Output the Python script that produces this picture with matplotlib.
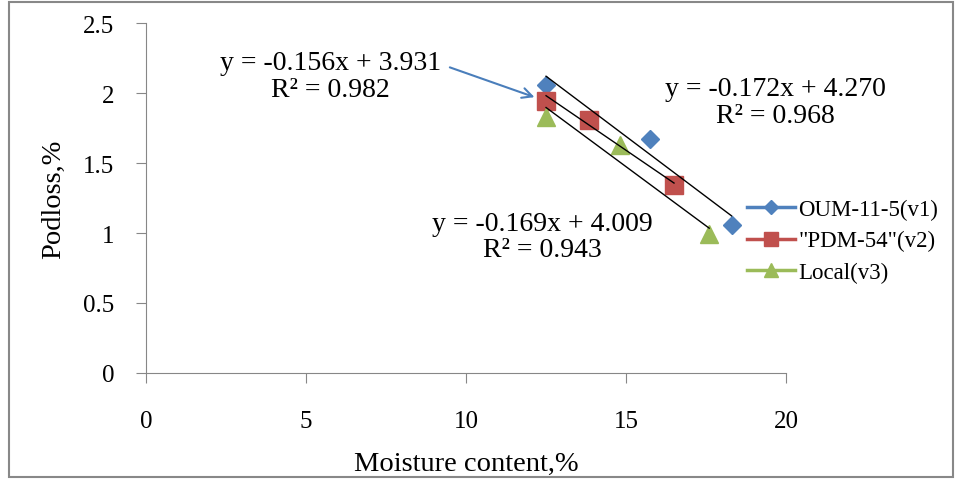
import numpy as np
import matplotlib.pyplot as plt
from matplotlib.patches import Rectangle

plt.rcParams['font.family'] = ['Liberation Serif', 'DejaVu Serif']

# data
names = ['OUM-11-5(v1)', '"PDM-54"(v2)', 'Local(v3)']
moist = [[12.5, 15.75, 18.3],
         [12.5, 13.85, 16.5],
         [12.5, 14.8, 17.6]]
podloss = [[2.06, 1.67, 1.06],
           [1.94, 1.81, 1.34],
           [1.83, 1.63, 0.99]]
slopes = [-0.172, -0.156, -0.169]
intercepts = [4.270, 3.931, 4.009]
r2 = [0.968, 0.982, 0.943]
colors = ['#4F81BD', '#C0504D', '#9BBB59']
markers = ['D', 's', '^']
msizes = [9.5, 12.5, 12.5]

fig = plt.figure(figsize=(9.62, 4.81), dpi=100)
ax = fig.add_axes([0.152, 0.2225, 0.665, 0.7275])

for i in range(3):
    ax.plot(moist[i], podloss[i], linestyle='none', marker=markers[i],
            ms=msizes[i], color=colors[i], label=names[i], zorder=3)
    xs = np.array([min(moist[i]), max(moist[i])])
    ax.plot(xs, slopes[i]*xs + intercepts[i], color='black', lw=1, zorder=4)

ax.set_xlim(0, 20)
ax.set_ylim(0, 2.5)
ax.set_xticks([0, 5, 10, 15, 20])
ax.set_yticks([0, 0.5, 1, 1.5, 2, 2.5])
ax.set_yticklabels(['0', '0.5', '1', '1.5', '2', '2.5'])
for s in ['top', 'right']:
    ax.spines[s].set_visible(False)
for s in ['left', 'bottom']:
    ax.spines[s].set_color('#878787')
ax.tick_params(direction='out', length=7, color='#878787', labelsize=18)
ax.tick_params(axis='x', pad=20)
ax.tick_params(axis='y', pad=16)
ax.set_xlabel('Moisture content,%', fontsize=20.5, labelpad=13)
ax.set_ylabel('Podloss,%', fontsize=20.5, labelpad=12)

def eq(i):
    return 'y = %.3fx + %.3f\nR\u00b2 = %.3f' % (slopes[i], intercepts[i], r2[i])

ax.text(5.75, 2.12, eq(1), ha='center', va='center', fontsize=20, linespacing=1.1)
ax.text(19.66, 1.936, eq(0), ha='center', va='center', fontsize=20, linespacing=1.1)
ax.text(12.37, 0.975, eq(2), ha='center', va='center', fontsize=20, linespacing=1.1)
ax.annotate('', xy=(12.22, 1.964), xytext=(9.41, 2.19),
            arrowprops=dict(arrowstyle='->', color='#4A7EBB', lw=1.5,
                            mutation_scale=18))

leg = ax.legend(loc='center left', bbox_to_anchor=(0.7765, 0.497),
                bbox_transform=fig.transFigure, frameon=False, borderpad=0,
                borderaxespad=0, fontsize=16.5, handlelength=2.1,
                handletextpad=0.15, labelspacing=0.45, markerscale=0.75)
for line in leg.get_lines():
    line.set_linestyle('-')
    line.set_linewidth(2.5)

fig.patches.append(Rectangle((0.009, 0.006), 0.982, 0.988, transform=fig.transFigure,
                             fill=False, edgecolor='#888888', lw=1.5))

fig.savefig('out.png', dpi=100)
